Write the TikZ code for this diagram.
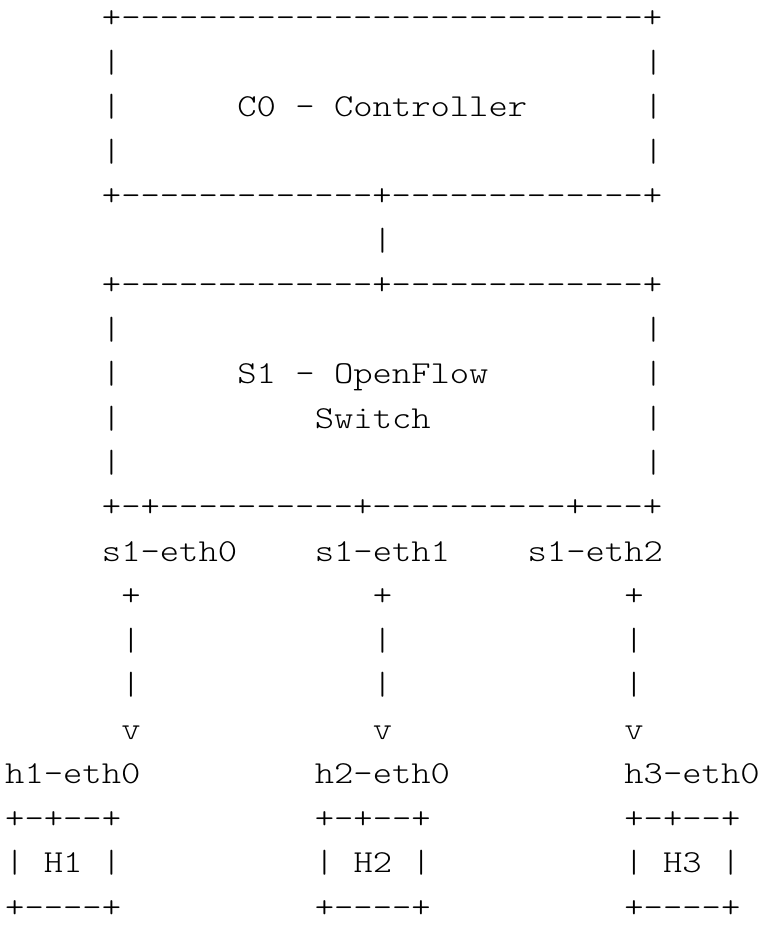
\documentclass[tikz,border=0pt]{standalone}
\usepackage{fontspec}
\setmonofont[FakeStretch=1.15]{lmmonolt10-regular.otf}
\tikzset{
  ascii/.style={anchor=base west, inner sep=0pt, font=\ttfamily\fontsize{32}{38}\selectfont},
}
\begin{document}
\begin{tikzpicture}[x=19.35pt, y=-44.45pt, every node/.style={ascii}]
    \fill[white] (-5pt, 28pt) rectangle (758pt, -916pt);
    \useasboundingbox (-5pt, 28pt) rectangle (758pt, -916pt);
    % controller box
    \node (ctrltop) at (5, 0) [] {+---------------------------+};
    \node (ctrlL1) at (5, 1) [] {|};
    \node (ctrlR1) at (33, 1) [] {|};
    \node (ctrlL2) at (5, 2) [] {|};
    \node (ctrl) at (12, 2) [] {C0 - Controller};
    \node (ctrlR2) at (33, 2) [] {|};
    \node (ctrlL3) at (5, 3) [] {|};
    \node (ctrlR3) at (33, 3) [] {|};
    \node (ctrlbot) at (5, 4) [] {+-------------+-------------+};
    % link controller - switch
    \node (link) at (19, 5) [] {|};
    % switch box
    \node (swtop) at (5, 6) [] {+-------------+-------------+};
    \node (swL1) at (5, 7) [] {|};
    \node (swR1) at (33, 7) [] {|};
    \node (swL2) at (5, 8) [] {|};
    \node (sw) at (12, 8) [] {S1 - OpenFlow};
    \node (swR2) at (33, 8) [] {|};
    \node (swL3) at (5, 9) [] {|};
    \node (sw2) at (16, 9) [] {Switch};
    \node (swR3) at (33, 9) [] {|};
    \node (swL4) at (5, 10) [] {|};
    \node (swR4) at (33, 10) [] {|};
    \node (swbot) at (5, 11) [] {+-+----------+----------+---+};
    % switch ports
    \node (port0) at (5, 12) [] {s1-eth0};
    \node (port1) at (16, 12) [] {s1-eth1};
    \node (port2) at (27, 12) [] {s1-eth2};
    % links to hosts
    \foreach \c/\n in {6/a, 19/b, 32/c} {
        \node (plus\n) at (\c, 13) [] {+};
        \node (barA\n) at (\c, 14) [] {|};
        \node (barB\n) at (\c, 15) [] {|};
        \node (tip\n) at (\c, 16) [] {v};
    }
    % hosts
    \foreach \c/\i in {0/1, 16/2, 32/3} {
        \node (heth\i) at (\c, 17) [] {h\i-eth0};
        \node (htop\i) at (\c, 18) [] {+-+--+};
        \node (hL\i) at (\c, 19) [] {|};
        \node (host\i) at (\c+2, 19) [] {H\i};
        \node (hR\i) at (\c+5, 19) [] {|};
        \node (hbot\i) at (\c, 20) [] {+----+};
    }
\end{tikzpicture}
\end{document}
